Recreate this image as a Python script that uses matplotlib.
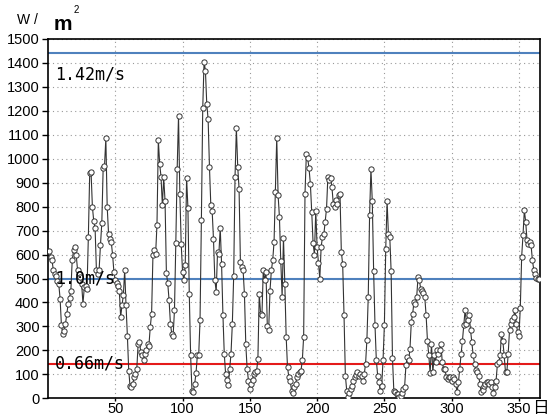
import numpy as np
import matplotlib
matplotlib.use("Agg")
import matplotlib.pyplot as plt

power = [
    615, 590, 576, 534, 520, 510, 490, 478, 416, 304,
    269, 283, 311, 353, 395, 420, 450, 576, 618, 632,
    597, 534, 520, 506, 478, 395, 464, 470, 457, 674,
    939, 946, 800, 740, 711, 534, 520, 537, 640, 732,
    960, 970, 1085, 800, 688, 663, 653, 600, 527, 492,
    480, 470, 450, 339, 388, 430, 534, 388, 262, 116,
    50, 46, 60, 88, 102, 123, 227, 234, 192, 179,
    158, 186, 200, 227, 220, 297, 353, 597, 621, 604,
    725, 1078, 978, 925, 806, 922, 823, 523, 480, 409,
    311, 269, 262, 367, 650, 957, 1179, 852, 646, 527,
    492, 555, 921, 795, 437, 179, 32, 25, 60, 105,
    179, 180, 328, 743, 1211, 1406, 1368, 1228, 1166, 967,
    806, 783, 663, 495, 444, 610, 604, 711, 562, 349,
    186, 102, 77, 57, 123, 186, 311, 509, 925, 1127,
    967, 875, 569, 548, 534, 434, 225, 123, 74, 39,
    60, 77, 102, 110, 112, 165, 437, 353, 346, 537,
    492, 527, 300, 286, 450, 534, 576, 653, 862, 1088,
    848, 757, 572, 425, 670, 478, 258, 130, 88, 74,
    32, 21, 46, 60, 88, 102, 109, 115, 158, 258,
    855, 1018, 1002, 960, 894, 778, 649, 600, 783, 632,
    565, 499, 632, 674, 684, 737, 792, 925, 911, 918,
    883, 813, 799, 827, 813, 848, 855, 611, 559, 346,
    95, 32, 7, 21, 39, 53, 74, 88, 98, 109,
    95, 102, 95, 74, 100, 144, 244, 425, 767, 957,
    823, 531, 308, 160, 95, 67, 29, 53, 160, 308,
    625, 823, 684, 674, 531, 169, 32, 25, 20, 18,
    7, 11, 21, 39, 46, 137, 172, 158, 206, 318,
    353, 402, 395, 423, 506, 492, 457, 450, 440, 423,
    346, 241, 179, 105, 227, 109, 179, 151, 200, 186,
    200, 227, 151, 123, 123, 88, 81, 90, 88, 74,
    88, 80, 60, 25, 67, 123, 186, 241, 304, 370,
    311, 328, 346, 286, 234, 179, 144, 120, 109, 95,
    60, 25, 35, 53, 60, 67, 70, 60, 67, 46,
    21, 46, 74, 144, 151, 179, 269, 241, 179, 109,
    109, 186, 286, 311, 325, 340, 367, 311, 276, 262,
    378, 590, 681, 785, 737, 660, 646, 653, 640, 576,
    537, 520, 504, 499, 500,
]
days = np.arange(1, len(power) + 1)

# Linee di riferimento (velocita' del vento)
ref_values = [1440, 500, 145]
ref_labels = ["1.42m/s", "1.0m/s", "0.66m/s"]
ref_colors = ["#4f81bd", "#4f81bd", "#e41a1a"]
label_y = [1350, 500, 145]

fig = plt.figure(figsize=(5.49, 4.18), dpi=100)
ax = fig.add_axes([0.0874, 0.0471, 0.8971, 0.8596])

for v, c in zip(ref_values, ref_colors):
    ax.axhline(v, color=c, lw=1.5, zorder=2)

ax.plot(days, power, color="#333333", lw=0.8, marker="o", ms=3.8,
        mfc="white", mec="#333333", mew=0.7, zorder=3)

for lab, y in zip(ref_labels, label_y):
    ax.text(5, y, lab, fontsize=12, family="DejaVu Sans Mono",
            va="center", ha="left", zorder=4)

ax.set_xlim(0, 366)
ax.set_ylim(0, 1500)
ax.set_xticks(range(50, 351, 50))
ax.set_yticks(range(0, 1501, 100))
ax.grid(True, color="#999999", ls=(0, (1, 3)), lw=0.8)
ax.tick_params(axis="both", labelsize=10.5, length=4, width=1, direction="out")
ax.tick_params(axis="x", length=2, pad=0.5)
ax.tick_params(axis="y", pad=2)
for lab in ax.get_xticklabels() + ax.get_yticklabels():
    lab.set_family("Liberation Sans")
for s in ax.spines.values():
    s.set_linewidth(1.2)

# Unita'
fig.text(17 / 549, 1 - 20 / 418, "W /", fontsize=10, va="center", ha="left",
         family="Liberation Sans")
fig.text(54 / 549, 1 - 25 / 418, "m", fontsize=15, fontweight="bold",
         va="center", ha="left", family="Liberation Sans")
fig.text(74 / 549, 1 - 10 / 418, "2", fontsize=7, va="center", ha="left",
         family="Liberation Sans")
fig.text(540 / 549, 1 - 409 / 418, "日", fontsize=12, va="center",
         ha="center", family=["Noto Sans CJK JP", "DejaVu Sans"])

fig.savefig("out.png", dpi=100)
